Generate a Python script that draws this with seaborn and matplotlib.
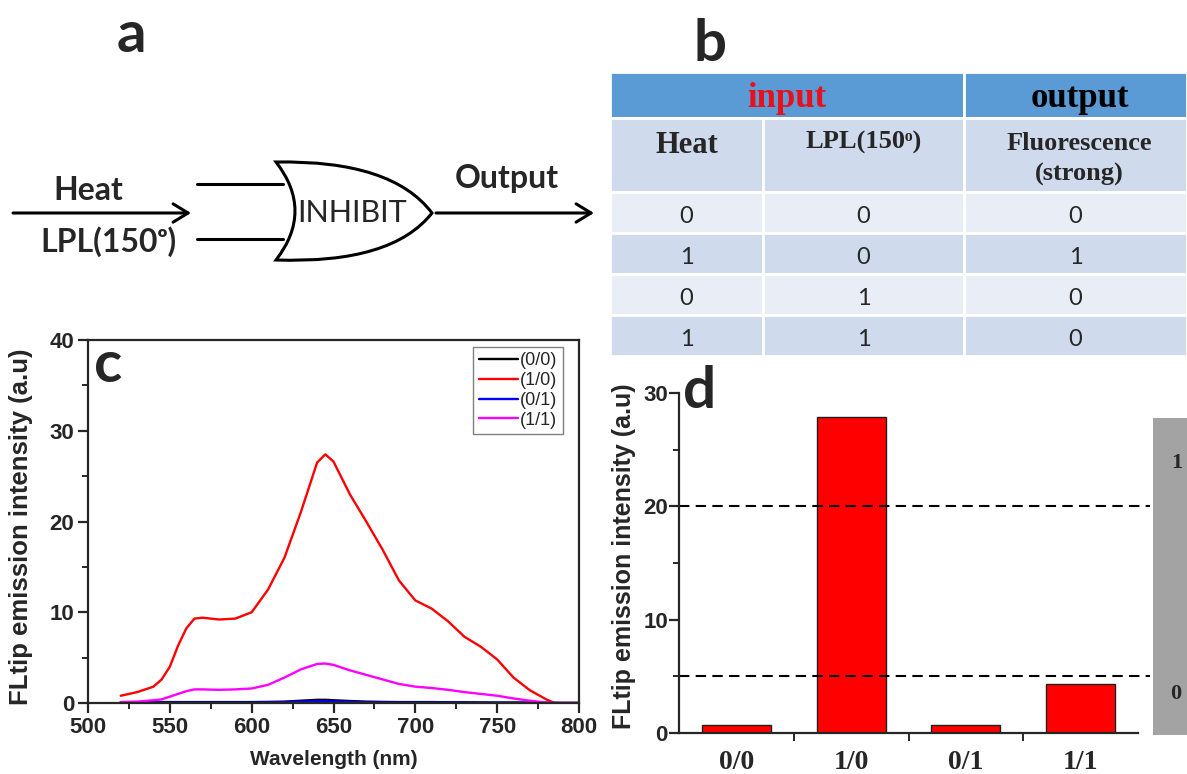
import numpy as np
import pandas as pd
import matplotlib
matplotlib.use("Agg")
import matplotlib.pyplot as plt
import seaborn as sns
from matplotlib.path import Path
from matplotlib.patches import PathPatch, Rectangle
from matplotlib.ticker import MultipleLocator, FixedLocator

# ---------------- data ----------------
wavelength = [520, 530, 540, 545, 550, 555, 560, 565, 570, 580, 590, 600, 610, 620, 630,
              640, 645, 650, 660, 670, 680, 690, 700, 710, 720, 730, 740, 750, 760, 770,
              780, 785, 790, 800]
I_00 = [0.1, 0.1, 0.1, 0.1, 0.1, 0.1, 0.1, 0.1, 0.1, 0.1, 0.1, 0.1, 0.12, 0.15, 0.25,
        0.35, 0.35, 0.3, 0.22, 0.15, 0.12, 0.1, 0.1, 0.1, 0.08, 0.08, 0.06, 0.05, 0.05, 0.04,
        0.03, 0.02, 0.0, 0.0]
I_10 = [0.8, 1.2, 1.8, 2.6, 4.0, 6.3, 8.2, 9.3, 9.4, 9.2, 9.3, 10.0, 12.5, 16.0, 21.0,
        26.5, 27.4, 26.6, 23.0, 20.0, 16.9, 13.5, 11.3, 10.4, 9.0, 7.3, 6.2, 4.8, 2.8, 1.4,
        0.4, 0.0, 0.0, 0.0]
I_01 = [0.05, 0.05, 0.05, 0.05, 0.05, 0.05, 0.05, 0.05, 0.05, 0.05, 0.05, 0.05, 0.07, 0.1, 0.15,
        0.2, 0.2, 0.18, 0.12, 0.08, 0.06, 0.05, 0.05, 0.05, 0.05, 0.04, 0.04, 0.03, 0.03, 0.02,
        0.01, 0.0, 0.0, 0.0]
I_11 = [0.1, 0.15, 0.3, 0.4, 0.7, 1.0, 1.3, 1.5, 1.5, 1.45, 1.5, 1.6, 2.0, 2.8, 3.7,
        4.3, 4.35, 4.2, 3.6, 3.1, 2.6, 2.1, 1.8, 1.65, 1.45, 1.2, 1.0, 0.8, 0.5, 0.25,
        0.05, 0.0, 0.0, 0.0]
states = ["(0/0)", "(1/0)", "(0/1)", "(1/1)"]
line_colors = ["#000000", "#FF0000", "#0000FF", "#FF00FF"]

bar_categories = ["0/0", "1/0", "0/1", "1/1"]
bar_values = [0.7, 27.9, 0.75, 4.3]
threshold_values = [20, 5]
output_levels = ["1", "0"]

table_header = ["input", "output"]
table_columns = ["Heat", "LPL(150ᵒ)", "Fluorescence", "(strong)"]
table_rows = [["0", "0", "0"], ["1", "0", "1"], ["0", "1", "0"], ["1", "1", "0"]]

gate_inputs = ["Heat", "LPL(150ᵒ)"]
gate_name = "INHIBIT"
gate_output = "Output"
panel_labels = ["a", "b", "c", "d"]

# ---------------- style ----------------
sns.set_style("ticks")
ARIAL = ["Liberation Sans", "DejaVu Sans"]
SERIF = ["Liberation Serif", "DejaVu Serif"]
CALI = ["Lato", "DejaVu Sans"]
plt.rcParams["font.family"] = ARIAL

W, H = 1187, 774
fig = plt.figure(figsize=(W / 100, H / 100), dpi=100)
fig.patch.set_facecolor("white")


def fax(l, t, r, b):
    return [l / W, (H - b) / H, (r - l) / W, (b - t) / H]


# overlay axes in pixel coordinates
ax0 = fig.add_axes([0, 0, 1, 1], zorder=5)
ax0.set_xlim(0, W)
ax0.set_ylim(H, 0)
ax0.set_axis_off()

# ---------------- panel a ----------------
arrow = dict(arrowstyle="->,head_length=0.9,head_width=0.55", lw=2.2, color="black",
             shrinkA=0, shrinkB=0, mutation_scale=12)
ax0.annotate("", xy=(191, 213), xytext=(13, 213), arrowprops=arrow)
ax0.annotate("", xy=(594, 213), xytext=(436, 213), arrowprops=arrow)
ax0.plot([197, 283], [184, 184], color="black", lw=2.2)
ax0.plot([197, 283], [239, 239], color="black", lw=2.2)
verts = [(276, 162), (392, 160), (432, 213), (392, 264), (276, 260), (314, 211), (276, 162), (276, 162)]
codes = [Path.MOVETO, Path.CURVE3, Path.CURVE3, Path.CURVE3, Path.CURVE3, Path.CURVE3, Path.CURVE3,
         Path.CLOSEPOLY]
ax0.add_patch(PathPatch(Path(verts, codes), facecolor="white", edgecolor="black", lw=2.2, zorder=3))
ax0.text(88, 200, gate_inputs[0], ha="center", va="baseline", fontsize=23, fontweight="bold", family=CALI)
ax0.text(108, 252, gate_inputs[1], ha="center", va="baseline", fontsize=23, fontweight="bold", family=CALI)
ax0.text(352, 222, gate_name, ha="center", va="baseline", fontsize=22, family=CALI, zorder=4)
ax0.text(507, 188, gate_output, ha="center", va="baseline", fontsize=23, fontweight="bold", family=CALI)

# ---------------- panel b (table) ----------------
HEAD_C = "#5B9BD5"
DARK_C = "#CFDAEC"
LIGHT_C = "#E9EDF5"
xs = [610, 763, 964, 1187]
ax0.add_patch(Rectangle((xs[0], 72), xs[2] - xs[0], 46, facecolor=HEAD_C, edgecolor="white", lw=2))
ax0.add_patch(Rectangle((xs[2], 72), xs[3] - xs[2], 46, facecolor=HEAD_C, edgecolor="white", lw=2))
for j in range(3):
    ax0.add_patch(Rectangle((xs[j], 118), xs[j + 1] - xs[j], 74, facecolor=DARK_C, edgecolor="white", lw=2))
row_tops = [192, 233, 274, 315]
for i, row in enumerate(table_rows):
    col = LIGHT_C if i % 2 == 0 else DARK_C
    for j in range(3):
        ax0.add_patch(Rectangle((xs[j], row_tops[i]), xs[j + 1] - xs[j], 41, facecolor=col,
                                edgecolor="white", lw=2))
        ax0.text((xs[j] + xs[j + 1]) / 2, row_tops[i] + 31, row[j], ha="center", va="baseline",
                 fontsize=17, family=CALI)
ax0.text((xs[0] + xs[2]) / 2, 107, table_header[0], ha="center", va="baseline", fontsize=25,
         fontweight="bold", family=SERIF, color="#E8101A")
ax0.text((xs[2] + xs[3]) / 2 + 4, 107, table_header[1], ha="center", va="baseline", fontsize=25,
         fontweight="bold", family=SERIF, color="black")
ax0.text((xs[0] + xs[1]) / 2, 153, table_columns[0], ha="center", va="baseline", fontsize=22,
         fontweight="bold", family=SERIF)
ax0.text((xs[1] + xs[2]) / 2, 149, table_columns[1], ha="center", va="baseline", fontsize=19,
         fontweight="bold", family=SERIF)
ax0.text((xs[2] + xs[3]) / 2 + 4, 150, table_columns[2], ha="center", va="baseline", fontsize=19,
         fontweight="bold", family=SERIF)
ax0.text((xs[2] + xs[3]) / 2 + 4, 181, table_columns[3], ha="center", va="baseline", fontsize=19,
         fontweight="bold", family=SERIF)

# ---------------- panel c ----------------
axc = fig.add_axes(fax(88, 340, 579, 703), zorder=1)
axc.set_facecolor("none")
df = pd.DataFrame({
    "Wavelength": wavelength * 4,
    "Intensity": I_00 + I_10 + I_01 + I_11,
    "state": sum([[s] * len(wavelength) for s in states], []),
})
sns.lineplot(data=df, x="Wavelength", y="Intensity", hue="state", hue_order=states,
             palette=dict(zip(states, line_colors)), estimator=None, lw=1.7, ax=axc)
handles, labels = axc.get_legend_handles_labels()
axc.legend(handles, labels, loc="upper right", bbox_to_anchor=(1 - 16 / 491, 1 - 7 / 363),
           borderaxespad=0, frameon=True, fancybox=False, edgecolor="#808080", framealpha=1,
           fontsize=13, handlelength=2.2, handletextpad=0.1, labelspacing=0.15, borderpad=0.3)
axc.get_legend().get_frame().set_linewidth(1.0)
axc.set_xlim(500, 800)
axc.set_ylim(0, 40)
axc.xaxis.set_major_locator(MultipleLocator(50))
axc.xaxis.set_minor_locator(MultipleLocator(25))
axc.yaxis.set_major_locator(MultipleLocator(10))
axc.yaxis.set_minor_locator(MultipleLocator(5))
axc.tick_params(which="major", direction="out", length=7, width=1.6, labelsize=16, pad=3)
axc.tick_params(which="minor", direction="out", length=4, width=1.4)
for lab in axc.get_xticklabels() + axc.get_yticklabels():
    lab.set_fontweight("bold")
for sp in axc.spines.values():
    sp.set_linewidth(1.6)
axc.set_xlabel("Wavelength (nm)", fontsize=15, fontweight="bold")
axc.set_ylabel("FLtip emission intensity (a.u)", fontsize=18.5, fontweight="bold")
axc.xaxis.set_label_coords(0.5, -(750 - 703) / 363)
axc.yaxis.set_label_coords((33 - 88) / 491, 0.486)

# ---------------- panel d ----------------
axd = fig.add_axes(fax(679, 393, 1138, 733), zorder=1)
axd.set_facecolor("none")
sns.barplot(x=bar_categories, y=bar_values, color="#FF0000", saturation=1, width=0.6,
            edgecolor="#202020", linewidth=1.0, ax=axd)
axd.set_xlim(-0.5, 3.5)
axd.set_ylim(0, 30)
sns.despine(ax=axd)
for sp in axd.spines.values():
    sp.set_linewidth(1.6)
axd.set_xticks(range(len(bar_categories)))
axd.set_xticklabels(bar_categories, fontsize=20, fontweight="bold", family=SERIF)
axd.xaxis.set_minor_locator(FixedLocator([0.5, 1.5, 2.5]))
axd.yaxis.set_major_locator(MultipleLocator(10))
axd.yaxis.set_minor_locator(MultipleLocator(5))
axd.tick_params(axis="x", which="major", length=0, pad=12)
axd.tick_params(axis="x", which="minor", direction="out", length=6, width=1.4)
axd.tick_params(axis="y", which="major", direction="out", length=7, width=1.6, labelsize=16, pad=1)
axd.tick_params(axis="y", which="minor", direction="out", length=4, width=1.4)
for lab in axd.get_yticklabels():
    lab.set_fontweight("bold")
for y in threshold_values:
    axd.axhline(y, xmin=0, xmax=1 + 12 / 459, color="black", lw=1.5, ls=(0, (5, 3)), clip_on=False)
axd.set_xlabel("")
axd.set_ylabel("FLtip emission intensity (a.u)", fontsize=18, fontweight="bold")
axd.yaxis.set_label_coords((636 - 679) / 459, 0.52)

# gray output bar
ax0.add_patch(Rectangle((1153, 418), W - 1153, 317, facecolor="#A3A3A3", edgecolor="none"))
ax0.text(1177, 468, output_levels[0], ha="center", va="baseline", fontsize=16, fontweight="bold", family=SERIF)
ax0.text(1176, 699, output_levels[1], ha="center", va="baseline", fontsize=16, fontweight="bold", family=SERIF)

# panel letters
for lab, (x, y) in zip(panel_labels, [(131, 52), (710, 61), (108, 382), (700, 408)]):
    ax0.text(x, y, lab, ha="center", va="baseline", fontsize=42, fontweight="bold", family=CALI)

fig.savefig("out.png", dpi=100)
